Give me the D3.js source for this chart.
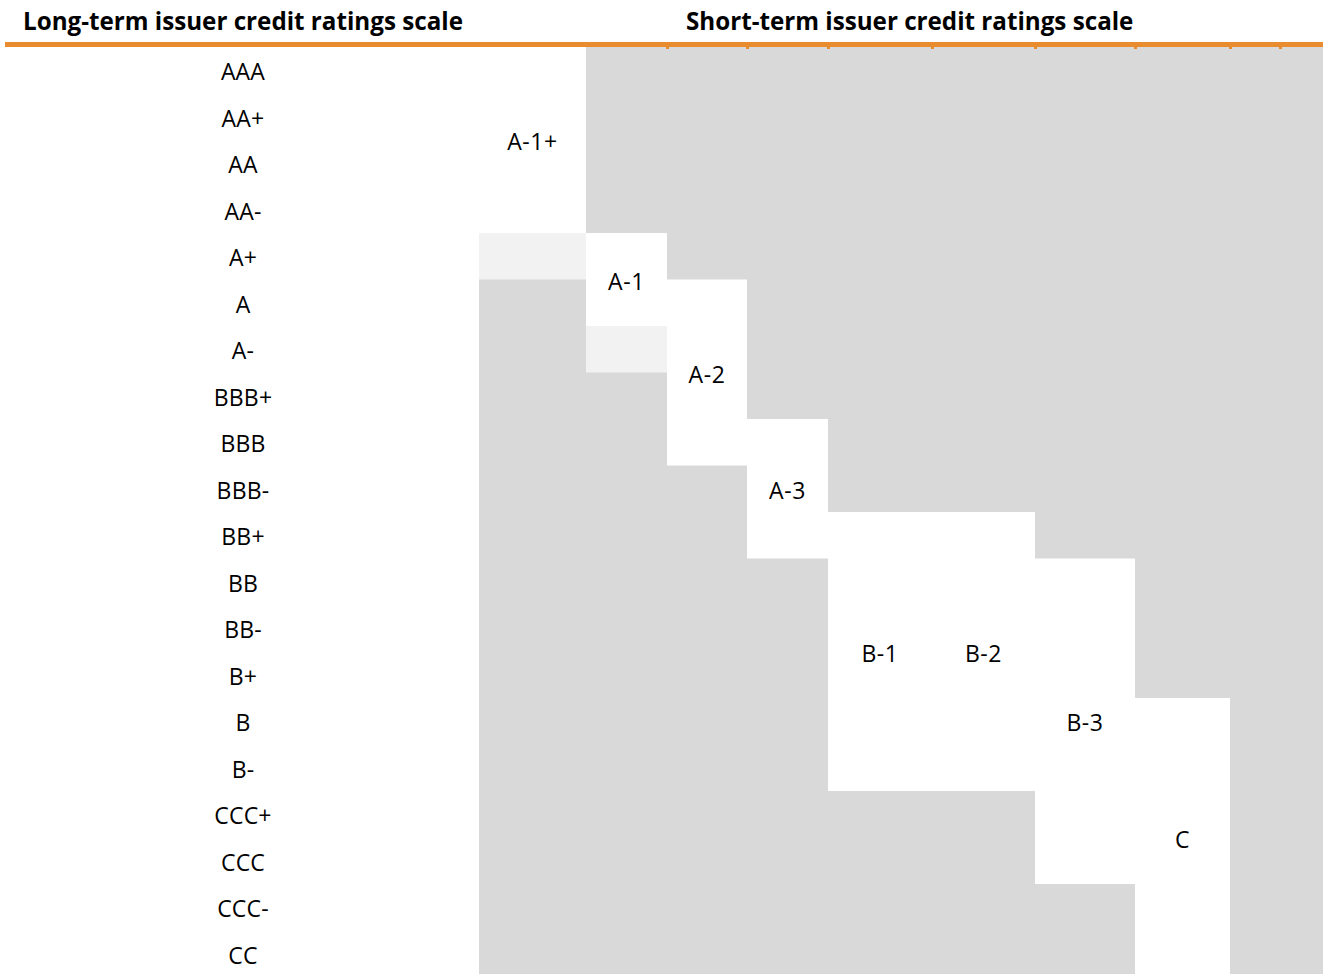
<!DOCTYPE html>
<meta charset="utf-8">
<script src="https://d3js.org/d3.v7.min.js"></script>
<style>
  body { margin: 0; background: #fff; }
</style>
<div id="ratings_chart"></div>

<script>
    // long-term scale, one row per rating
    const longTerm = ["AAA", "AA+", "AA", "AA-", "A+", "A", "A-", "BBB+", "BBB", "BBB-",
                      "BB+", "BB", "BB-", "B+", "B", "B-", "CCC+", "CCC", "CCC-", "CC"];

    // short-term scale: label, first and last long-term row it covers
    const shortTerm = ["A-1+", "A-1", "A-2", "A-3", "B-1", "B-2", "B-3", "C"];
    const shortFrom = ["AAA", "A+", "A", "BBB", "BB+", "BB+", "BB", "B"];
    const shortTo   = ["AA-", "A", "BBB", "BB+", "B-", "B-", "CCC", "CC"];

    // cells where the mapping is only partial (light shade)
    const partialCol = ["A-1+", "A-1"];
    const partialRow = ["A+", "A-"];

    const headers = ["Long-term issuer credit ratings scale", "Short-term issuer credit ratings scale"];

    //  layout
    const width = 1323, height = 974;
    const gridTop = 47, gridLeft = 479;
    const columns = shortTerm.concat(["", " "]);
    const colWidths = [107, 81, 80, 81, 104, 103, 100, 95, 50, 43];
    const labelFont = "'Open Sans', sans-serif";

    const svg = d3.select("#ratings_chart")
      .append("svg")
        .attr("width", width)
        .attr("height", height)
        .style("display", "block");

    // row scale
    const y = d3.scaleBand()
        .domain(longTerm)
        .range([gridTop, gridTop + longTerm.length * 46.5]);

    // column scale with unequal widths
    const edges = Array.from(d3.cumsum([gridLeft].concat(colWidths)));
    const xLeft = d3.scaleOrdinal().domain(columns).range(edges.slice(0, -1));
    const xWidth = d3.scaleOrdinal().domain(columns).range(colWidths);

    // grey background of the short-term grid
    svg.append("rect")
        .attr("x", gridLeft)
        .attr("y", gridTop)
        .attr("width", width - gridLeft)
        .attr("height", height - gridTop)
        .style("fill", "#d9d9d9");

    // partial cells
    svg.selectAll("rect.partial")
      .data(partialCol.map((c, i) => ({col: c, row: partialRow[i]})))
      .join("rect")
        .attr("class", "partial")
        .attr("x", d => xLeft(d.col))
        .attr("y", d => y(d.row))
        .attr("width", d => xWidth(d.col))
        .attr("height", y.bandwidth())
        .style("fill", "#f2f2f2");

    const blocks = shortTerm.map((s, i) => ({label: s, from: shortFrom[i], to: shortTo[i]}));

    // white blocks for each short-term rating
    svg.selectAll("rect.block")
      .data(blocks)
      .join("rect")
        .attr("class", "block")
        .attr("x", d => xLeft(d.label))
        .attr("y", d => y(d.from))
        .attr("width", d => xWidth(d.label))
        .attr("height", d => y(d.to) + y.bandwidth() - y(d.from))
        .style("fill", "#fff");

    svg.selectAll("text.short")
      .data(blocks)
      .join("text")
        .attr("class", "short")
        .attr("x", d => xLeft(d.label) + xWidth(d.label) / 2)
        .attr("y", d => (y(d.from) + y(d.to) + y.bandwidth()) / 2 + 1)
        .attr("text-anchor", "middle")
        .attr("dominant-baseline", "central")
        .style("font-family", labelFont)
        .style("font-size", "23px")
        .style("letter-spacing", "0.6px")
        .style("fill", "#000")
        .text(d => d.label);

    // long-term labels
    svg.selectAll("text.long")
      .data(longTerm)
      .join("text")
        .attr("class", "long")
        .attr("x", 243)
        .attr("y", d => y(d) + y.bandwidth() / 2 + 1)
        .attr("text-anchor", "middle")
        .attr("dominant-baseline", "central")
        .style("font-family", labelFont)
        .style("font-size", "23px")
        .style("letter-spacing", "0.2px")
        .style("fill", "#000")
        .text(d => d);

    // orange header rule
    svg.append("rect")
        .attr("x", 5)
        .attr("y", 42)
        .attr("width", width - 5)
        .attr("height", 5)
        .style("fill", "#e98c30");

    // little nubs on the rule at column borders
    svg.selectAll("rect.nub")
      .data(edges.slice(2, -1))
      .join("rect")
        .attr("class", "nub")
        .attr("x", d => d - 1)
        .attr("y", 47)
        .attr("width", 3)
        .attr("height", 2)
        .style("fill", "#e98c30");

    // headers
    const head = svg.selectAll("text.header")
      .data(headers)
      .join("text")
        .attr("class", "header")
        .attr("x", (d, i) => i === 0 ? 23 : 686)
        .attr("y", 30)
        .style("font-family", labelFont)
        .style("font-weight", "700")
        .style("font-size", "24px")
        .style("fill", "#000")
        .text(d => d);

    // shrink the bold headers to the width they take in the original
    const w0 = head.node().getComputedTextLength();
    head.style("font-size", (24 * 440 / w0).toFixed(2) + "px");
</script>
